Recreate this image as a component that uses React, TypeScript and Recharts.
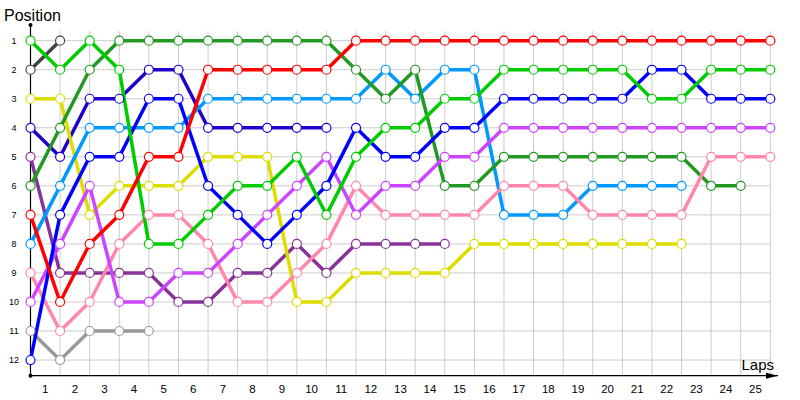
import React from 'react';
import { LineChart, Line, XAxis, YAxis, ReferenceLine, ReferenceDot } from 'recharts';

const laps = [0, 1, 2, 3, 4, 5, 6, 7, 8, 9, 10, 11, 12, 13, 14, 15, 16, 17, 18, 19, 20, 21, 22, 23, 24, 25];
const lapLabels = ['1', '2', '3', '4', '5', '6', '7', '8', '9', '10', '11', '12', '13', '14', '15', '16', '17', '18', '19', '20', '21', '22', '23', '24', '25'];
const positions = [1, 2, 3, 4, 5, 6, 7, 8, 9, 10, 11, 12];

const redCar = [7, 10, 8, 7, 5, 5, 2, 2, 2, 2, 2, 1, 1, 1, 1, 1, 1, 1, 1, 1, 1, 1, 1, 1, 1, 1];
const brightGreenCar = [1, 2, 1, 2, 8, 8, 7, 6, 6, 5, 7, 5, 4, 4, 3, 3, 2, 2, 2, 2, 2, 3, 3, 2, 2, 2];
const darkGreenCar = [6, 4, 2, 1, 1, 1, 1, 1, 1, 1, 1, 2, 3, 2, 6, 6, 5, 5, 5, 5, 5, 5, 5, 6, 6, null];
const blueCar = [12, 7, 5, 5, 3, 3, 6, 7, 8, 7, 6, 4, 5, 5, 4, 4, 3, 3, 3, 3, 3, 2, 2, 3, 3, 3];
const navyCar = [4, 5, 3, 3, 2, 2, 4, 4, 4, 4, 4, null, null, null, null, null, null, null, null, null, null, null, null, null, null, null];
const lightBlueCar = [8, 6, 4, 4, 4, 4, 3, 3, 3, 3, 3, 3, 2, 3, 2, 2, 7, 7, 7, 6, 6, 6, 6, null, null, null];
const yellowCar = [3, 3, 7, 6, 6, 6, 5, 5, 5, 10, 10, 9, 9, 9, 9, 8, 8, 8, 8, 8, 8, 8, 8, null, null, null];
const violetCar = [10, 8, 6, 10, 10, 9, 9, 8, 7, 6, 5, 7, 6, 6, 5, 5, 4, 4, 4, 4, 4, 4, 4, 4, 4, 4];
const purpleCar = [5, 9, 9, 9, 9, 10, 10, 9, 9, 8, 9, 8, 8, 8, 8, null, null, null, null, null, null, null, null, null, null, null];
const pinkCar = [9, 11, 10, 8, 7, 7, 8, 10, 10, 9, 8, 6, 7, 7, 7, 7, 6, 6, 6, 7, 7, 7, 7, 5, 5, 5];
const grayCar = [11, 12, 11, 11, 11, null, null, null, null, null, null, null, null, null, null, null, null, null, null, null, null, null, null, null, null, null];
const darkGrayCar = [2, 1, null, null, null, null, null, null, null, null, null, null, null, null, null, null, null, null, null, null, null, null, null, null, null, null];

const series = [
  { key: 'darkGray', values: darkGrayCar, color: '#444444' },
  { key: 'gray', values: grayCar, color: '#999999' },
  { key: 'purple', values: purpleCar, color: '#883399' },
  { key: 'navy', values: navyCar, color: '#2200cc' },
  { key: 'yellow', values: yellowCar, color: '#dddd00' },
  { key: 'lightBlue', values: lightBlueCar, color: '#0099ff' },
  { key: 'darkGreen', values: darkGreenCar, color: '#229922' },
  { key: 'pink', values: pinkCar, color: '#ff88aa' },
  { key: 'violet', values: violetCar, color: '#cc44ff' },
  { key: 'blue', values: blueCar, color: '#0000ff' },
  { key: 'brightGreen', values: brightGreenCar, color: '#00cc00' },
  { key: 'red', values: redCar, color: '#ff0000' },
];

const data = laps.map((lap, i) => {
  const row: Record<string, number | null> = { lap };
  series.forEach((s) => {
    row[s.key] = s.values[i];
  });
  return row;
});

const xTicks = lapLabels.map((_, i) => i + 0.5);
const Y_DOMAIN: [number, number] = [0.666, 12.54];
const FONT = '"Liberation Sans", Arial, sans-serif';

const ArrowRight = (props: any) => {
  const { cx, cy } = props;
  return <path d={`M${cx - 12},${cy - 3} L${cx},${cy} L${cx - 12},${cy + 3} Z`} fill="#000" />;
};
const SmallDot = (props: any) => {
  const { cx, cy } = props;
  return <circle cx={cx} cy={cy} r={2} fill="#000" />;
};

export default function App() {
  return (
    <div style={{ position: 'absolute', left: 0, top: 0, width: 800, height: 400, background: '#fff' }}>
      <LineChart
        width={800}
        height={400}
        data={data}
        margin={{ top: 31, right: 0, bottom: 0, left: 0 }}
        style={{ fontFamily: FONT }}
      >
        <XAxis
          dataKey="lap"
          type="number"
          domain={[0, 25]}
          ticks={xTicks}
          interval={0}
          tickFormatter={(v: number) => lapLabels[Math.floor(v)]}
          axisLine={false}
          tickLine={false}
          tickSize={0}
          tickMargin={8.8}
          height={24.3}
          tick={{ fontSize: 11.5, fill: '#000', fontFamily: FONT }}
        />
        <YAxis
          yAxisId="left"
          orientation="left"
          type="number"
          reversed
          domain={Y_DOMAIN}
          ticks={positions}
          interval={0}
          width={30.5}
          axisLine={false}
          tickLine={false}
          tickSize={0}
          tickMargin={16.5}
          tick={{ fontSize: 9, fill: '#000', textAnchor: 'middle', fontFamily: FONT }}
        />
        <YAxis
          yAxisId="right"
          orientation="right"
          type="number"
          reversed
          domain={Y_DOMAIN}
          ticks={positions}
          interval={0}
          width={29.7}
          axisLine={false}
          tickLine={false}
          tickSize={0}
          tickMargin={6.7}
          tick={{ fontSize: 9, fill: '#000', textAnchor: 'start', fontFamily: FONT }}
        />
        {laps.map((l) => (
          <ReferenceLine key={`vx${l}`} x={l} yAxisId="left" stroke="#cccccc" strokeWidth={1} />
        ))}
        {positions.map((p) => (
          <ReferenceLine key={`hy${p}`} y={p} yAxisId="left" stroke="#cccccc" strokeWidth={1} />
        ))}
        <ReferenceLine
          yAxisId="left"
          ifOverflow="visible"
          segment={[{ x: 0, y: 0.459 }, { x: 0, y: 12.54 }]}
          stroke="#000"
          strokeWidth={1.2}
        />
        <ReferenceLine
          yAxisId="left"
          ifOverflow="visible"
          segment={[{ x: 0, y: 12.54 }, { x: 25.26, y: 12.54 }]}
          stroke="#000"
          strokeWidth={1.2}
        />
        <ReferenceDot yAxisId="left" x={25.26} y={12.54} ifOverflow="visible" shape={ArrowRight} />
        <ReferenceDot yAxisId="left" x={0} y={0.459} ifOverflow="visible" shape={SmallDot} />
        <ReferenceDot yAxisId="left" x={0} y={12.54} ifOverflow="visible" shape={SmallDot} />
        {series.map((s) => (
          <Line
            key={s.key}
            yAxisId="left"
            type="linear"
            dataKey={s.key}
            stroke={s.color}
            strokeWidth={3.5}
            dot={{ r: 4.5, fill: '#ffffff', strokeWidth: 1.2, stroke: s.color, clipDot: false }}
            activeDot={false}
            connectNulls={false}
            isAnimationActive={false}
          />
        ))}
      </LineChart>
      <svg
        width={800}
        height={400}
        style={{ position: 'absolute', left: 0, top: 0, pointerEvents: 'none' }}
      >
        <text x={4} y={21} fontSize={16} fontFamily={FONT} fill="#000">Position</text>
        <text x={774} y={370} fontSize={15} fontFamily={FONT} fill="#000" textAnchor="end">Laps</text>
      </svg>
    </div>
  );
}
